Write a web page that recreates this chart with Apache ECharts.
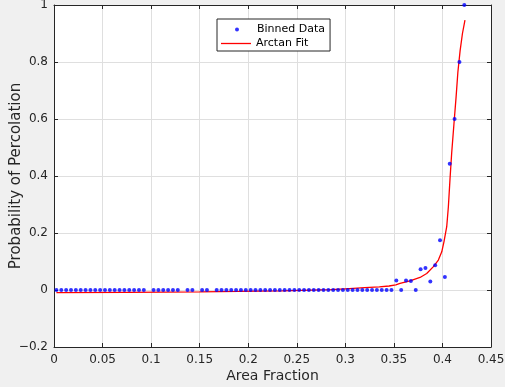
<!DOCTYPE html>
<html>
<head>
<meta charset="utf-8">
<script src="https://cdn.jsdelivr.net/npm/echarts@6/dist/echarts.min.js"></script>
<style>
  html, body { margin: 0; padding: 0; background: #f0f0f0; }
  #chart { width: 505px; height: 387px; }
</style>
</head>
<body>
<div id="chart"></div>
<script>
// binned data (area fraction, probability)
var binX = [
  0.0025, 0.0075, 0.0125, 0.0175, 0.0225, 0.0275, 0.0325, 0.0375, 0.0425, 0.0475,
  0.0525, 0.0575, 0.0625, 0.0675, 0.0725, 0.0775, 0.0825, 0.0875, 0.0925,
  0.1025, 0.1075, 0.1125, 0.1175, 0.1225, 0.1275,
  0.1375, 0.1425,
  0.1525, 0.1575,
  0.1675, 0.1725, 0.1775, 0.1825, 0.1875, 0.1925, 0.1975, 0.2025, 0.2075, 0.2125,
  0.2175, 0.2225, 0.2275, 0.2325, 0.2375, 0.2425, 0.2475, 0.2525, 0.2575, 0.2625,
  0.2675, 0.2725, 0.2775, 0.2825, 0.2875, 0.2925, 0.2975, 0.3025, 0.3075, 0.3125,
  0.3175, 0.3225, 0.3275, 0.3325, 0.3375, 0.3425, 0.3475,
  0.3525, 0.3575, 0.3625, 0.3675, 0.3725, 0.3775, 0.3825, 0.3875, 0.3925, 0.3975,
  0.4025, 0.4075, 0.4125, 0.4175, 0.4225
];
var binY = [
  0, 0, 0, 0, 0, 0, 0, 0, 0, 0,
  0, 0, 0, 0, 0, 0, 0, 0, 0,
  0, 0, 0, 0, 0, 0,
  0, 0,
  0, 0,
  0, 0, 0, 0, 0, 0, 0, 0, 0, 0,
  0, 0, 0, 0, 0, 0, 0, 0, 0, 0,
  0, 0, 0, 0, 0, 0, 0, 0, 0, 0,
  0, 0, 0, 0, 0, 0, 0,
  0.033, 0, 0.033, 0.032, 0, 0.073, 0.077, 0.030, 0.087, 0.175,
  0.046, 0.443, 0.600, 0.800, 1.000
];

// arctan fit
var fitX = [0.0025, 0.075, 0.15, 0.19, 0.235, 0.255, 0.285, 0.30, 0.32, 0.335, 0.345, 0.352,
  0.3563, 0.3666, 0.3769, 0.3838, 0.3907, 0.3958, 0.3993, 0.4016, 0.4044, 0.4061,
  0.4078, 0.4095, 0.4119, 0.414, 0.4159, 0.4182, 0.4206, 0.4232];
var fitY = [-0.009, -0.008, -0.0065, -0.005, -0.003, -0.001, 0.001, 0.004, 0.008, 0.011, 0.014, 0.018,
  0.023, 0.032, 0.044, 0.058, 0.082, 0.105, 0.134, 0.170, 0.222, 0.292,
  0.390, 0.480, 0.585, 0.675, 0.765, 0.840, 0.900, 0.947];

var xTicks = { min: 0, max: 0.45, interval: 0.05 };
var yTicks = { min: -0.2, max: 1, interval: 0.2 };

var font = 'DejaVu Sans';
var axisColor = '#262626';

function zip(a, b) {
  return a.map(function (v, i) { return [v, b[i]]; });
}

// shared bits for the four sides of the box
function frameAxis(extra) {
  var base = {
    type: 'value',
    axisLine: { show: true, onZero: false, lineStyle: { color: axisColor } },
    axisTick: { show: true, inside: true, length: 4, lineStyle: { color: axisColor } },
    axisLabel: { show: false },
    splitLine: { show: false }
  };
  return Object.assign(base, extra);
}

var chart = echarts.init(document.getElementById('chart'));
chart.setOption({
  backgroundColor: '#f0f0f0',
  animation: false,
  grid: { left: 54, right: 14, top: 5, bottom: 40, show: true, backgroundColor: '#fff', borderWidth: 0, outerBoundsMode: 'none' },
  // two legends so the dot and the line can have their own icon size; the first one draws the box
  legend: [{
    orient: 'vertical',
    left: 217, top: 19,
    backgroundColor: '#fff',
    borderColor: axisColor, borderWidth: 1, borderRadius: 0,
    padding: [5, 5, 16, 18],
    itemWidth: 30, itemHeight: 4,
    textStyle: { fontFamily: font, fontSize: 11, color: '#000' },
    data: [{ name: 'Binned Data', icon: 'circle' }]
  }, {
    orient: 'vertical',
    left: 217, top: 38,
    padding: [0, 7, 0, 4],
    itemWidth: 30, itemHeight: 1.3,
    textStyle: { fontFamily: font, fontSize: 11, color: '#000' },
    data: [{ name: 'Arctan Fit', icon: 'rect' }],
    z: 6
  }],
  xAxis: [frameAxis({
    min: xTicks.min, max: xTicks.max, interval: xTicks.interval,
    name: 'Area Fraction', nameLocation: 'middle', nameGap: 22, nameMoveOverlap: false,
    nameTextStyle: { fontFamily: font, fontSize: 14, color: axisColor },
    axisLabel: { show: true, fontFamily: font, fontSize: 12, color: axisColor, margin: 7 },
    splitLine: { show: true, lineStyle: { color: '#dfdfdf' } }
  }), frameAxis({
    position: 'top', min: xTicks.min, max: xTicks.max, interval: xTicks.interval
  })],
  yAxis: [frameAxis({
    min: yTicks.min, max: yTicks.max, interval: yTicks.interval,
    name: 'Probability of Percolation', nameLocation: 'middle', nameGap: 30, nameMoveOverlap: false,
    nameTextStyle: { fontFamily: font, fontSize: 15, color: axisColor },
    axisLabel: {
      show: true, fontFamily: font, fontSize: 12, color: axisColor, margin: 6,
      formatter: function (v) { return String(+v.toFixed(2)).replace('-', '\u2212'); }
    },
    splitLine: { show: true, lineStyle: { color: '#dfdfdf' } }
  }), frameAxis({
    position: 'right', min: yTicks.min, max: yTicks.max, interval: yTicks.interval
  })],
  series: [{
    name: 'Binned Data',
    type: 'scatter',
    symbol: 'circle',
    symbolSize: 4,
    itemStyle: { color: '#0000ff' },
    data: zip(binX, binY),
    z: 3
  }, {
    name: 'Arctan Fit',
    type: 'line',
    symbol: 'none',
    lineStyle: { color: '#ff0000', width: 1.3 },
    itemStyle: { color: '#ff0000' },
    data: zip(fitX, fitY),
    z: 2
  }]
});
</script>
</body>
</html>
